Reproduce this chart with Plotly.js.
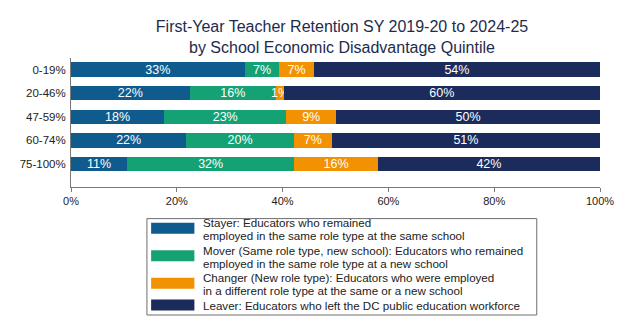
<!DOCTYPE html>
<html>
<head>
<meta charset="utf-8">
<script src="https://cdn.plot.ly/plotly-3.0.1.min.js"></script>
<style>html,body{margin:0;padding:0;background:#fff;}#chart{width:624px;height:332px;}</style>
</head>
<body>
<div id="chart"></div>
<script>
var categories = ["0-19%", "20-46%", "47-59%", "60-74%", "75-100%"];
var stayer  = [32.8, 22.4, 17.6, 21.8, 10.6];
var mover   = [6.6, 16.4, 23.1, 20.3, 31.6];
var changer = [6.5, 1.4, 9.4, 7.2, 15.8];
var leaver  = [54.1, 59.8, 49.9, 50.7, 42.0];
var seriesNames = ["Stayer", "Mover", "Changer", "Leaver"];
var legendLines = [
  ["Stayer: Educators who remained", "employed in the same role type at the same school"],
  ["Mover (Same role type, new school): Educators who remained", "employed in the same role type at a new school"],
  ["Changer (New role type): Educators who were employed", "in a different role type at the same or a new school"],
  ["Leaver: Educators who left the DC public education workforce"]
];
var xTickVals = [0, 20, 40, 60, 80, 100];
var xTickText = ["0%", "20%", "40%", "60%", "80%", "100%"];
var colors = ["#0f5b8e", "#14a274", "#f39200", "#1b2b5b"];

var W = 624, H = 332;
var M = {l: 70.5, r: 24, t: 58, b: 145};
var PW = W - M.l - M.r, PH = H - M.t - M.b;
function px(x) { return (x - M.l) / PW; }
function py(y) { return 1 - (y - M.t) / PH; }

var data = [stayer, mover, changer, leaver].map(function (vals, i) {
  return {
    type: "bar", orientation: "h", name: seriesNames[i],
    y: categories, x: vals,
    marker: {color: colors[i], line: {width: 0}},
    texttemplate: "%{x:.0f}%", textposition: "inside", insidetextanchor: "middle",
    constraintext: "none", textangle: 0,
    textfont: {color: "#ffffff", size: 12.5, family: "Liberation Sans, Arial, sans-serif"},
    showlegend: false, hoverinfo: "skip"
  };
});

var shapes = [{
  type: "rect", xref: "paper", yref: "paper",
  x0: px(146.5), x1: px(536.7), y0: py(218.6), y1: py(315),
  line: {color: "#6e6e6e", width: 1}, fillcolor: "rgba(0,0,0,0)"
}];
var annotations = [];
var swatchY = [228.3, 255.7, 283.3, 305];
var textY = [229.3, 256.7, 284, 305];
for (var i = 0; i < 4; i++) {
  shapes.push({
    type: "rect", xref: "paper", yref: "paper",
    x0: px(150.7), x1: px(194), y0: py(swatchY[i] - 5.5), y1: py(swatchY[i] + 5.5),
    line: {width: 0}, fillcolor: colors[i]
  });
  var txt = legendLines[i].map(function (t) {
    return '<span style="font-size:11.6px">' + t + '</span>';
  }).join("<br>");
  annotations.push({
    xref: "paper", yref: "paper", x: px(201.5), y: py(textY[i]),
    xanchor: "left", yanchor: "middle", showarrow: false, text: txt, align: "left",
    borderpad: 0,
    font: {size: 10, color: "#222222", family: "Liberation Sans, Arial, sans-serif"}
  });
}

var layout = {
  width: W, height: H,
  margin: M,
  barmode: "stack", bargap: 0.39,
  paper_bgcolor: "#ffffff", plot_bgcolor: "#ffffff",
  font: {family: "Liberation Sans, Arial, sans-serif", color: "#222222"},
  title: {
    text: "First-Year Teacher Retention SY 2019-20 to 2024-25<br>by School Economic Disadvantage Quintile",
    font: {size: 16, color: "#1e2b4d", family: "Liberation Sans, Arial, sans-serif"},
    x: 342 / W, xanchor: "center", xref: "container",
    y: 1 - 32 / H, yanchor: "top", yref: "container"
  },
  xaxis: {
    range: [0, 100], tickvals: xTickVals, ticktext: xTickText,
    showgrid: false, zeroline: false, showline: true, linecolor: "#7a7a7a", linewidth: 1,
    ticks: "outside", ticklen: 4, tickcolor: "#7a7a7a",
    tickfont: {size: 11, color: "#222222"}, fixedrange: true
  },
  yaxis: {
    type: "category", range: [4.97, -0.49],
    showgrid: false, zeroline: false, showline: true, linecolor: "#7a7a7a", linewidth: 1,
    ticks: "", ticklabelstandoff: 2,
    tickfont: {size: 11.5, color: "#222222"}, fixedrange: true
  },
  shapes: shapes,
  annotations: annotations,
  showlegend: false
};

Plotly.newPlot("chart", data, layout, {displayModeBar: false, staticPlot: true});
</script>
</body>
</html>
